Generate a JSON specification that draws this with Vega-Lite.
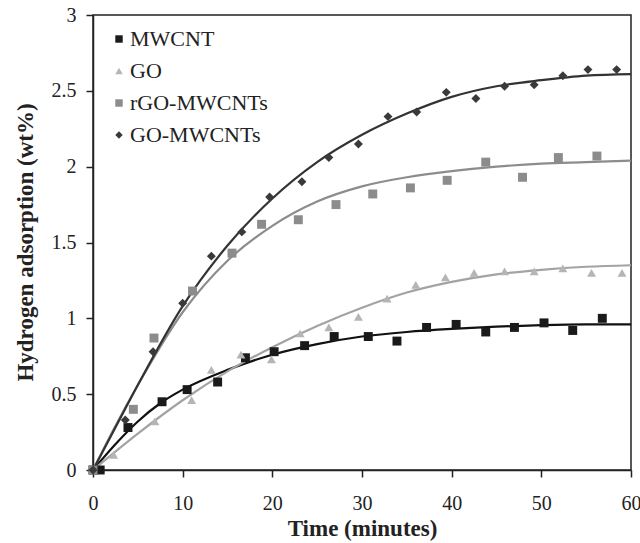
{
  "$schema": "https://vega.github.io/schema/vega-lite/v6.json",
  "width": 538,
  "height": 455,
  "autosize": {"type": "none"},
  "padding": {"left": 93, "top": 15, "right": 9, "bottom": 73},
  "background": "white",
  "config": {
    "font": "Times New Roman",
    "view": {"stroke": "#222", "strokeWidth": 1.5},
    "axis": {
      "labelFont": "Times New Roman", "labelFontSize": 20, "labelColor": "#222",
      "titleFont": "Times New Roman", "titleFontSize": 23, "titleFontWeight": "bold", "titleColor": "#222",
      "domainColor": "#222", "domainWidth": 1.5, "tickColor": "#222", "tickWidth": 1.5, "tickSize": 7,
      "grid": false
    },
    "legend": {"labelFont": "Times New Roman", "labelFontSize": 22, "labelColor": "#222"}
  },
  "resolve": {"scale": {"stroke": "independent"}, "legend": {"stroke": "independent"}},
  "datasets": {
    "points": [
      {"series": "MWCNT", "t": 0, "v": 0},
      {"series": "MWCNT", "t": 0.8, "v": 0.0},
      {"series": "MWCNT", "t": 3.9, "v": 0.28},
      {"series": "MWCNT", "t": 7.7, "v": 0.45},
      {"series": "MWCNT", "t": 10.5, "v": 0.53},
      {"series": "MWCNT", "t": 13.9, "v": 0.58},
      {"series": "MWCNT", "t": 17.0, "v": 0.74},
      {"series": "MWCNT", "t": 20.2, "v": 0.78},
      {"series": "MWCNT", "t": 23.6, "v": 0.82},
      {"series": "MWCNT", "t": 26.9, "v": 0.88},
      {"series": "MWCNT", "t": 30.7, "v": 0.88},
      {"series": "MWCNT", "t": 33.9, "v": 0.85},
      {"series": "MWCNT", "t": 37.2, "v": 0.94},
      {"series": "MWCNT", "t": 40.5, "v": 0.96},
      {"series": "MWCNT", "t": 43.8, "v": 0.91},
      {"series": "MWCNT", "t": 47.0, "v": 0.94},
      {"series": "MWCNT", "t": 50.3, "v": 0.97},
      {"series": "MWCNT", "t": 53.5, "v": 0.92},
      {"series": "MWCNT", "t": 56.8, "v": 1.0},
      {"series": "GO", "t": 0, "v": 0},
      {"series": "GO", "t": 2.3, "v": 0.1},
      {"series": "GO", "t": 6.9, "v": 0.32},
      {"series": "GO", "t": 11.0, "v": 0.46},
      {"series": "GO", "t": 13.2, "v": 0.66},
      {"series": "GO", "t": 16.5, "v": 0.76},
      {"series": "GO", "t": 19.9, "v": 0.73},
      {"series": "GO", "t": 23.1, "v": 0.9},
      {"series": "GO", "t": 26.3, "v": 0.94},
      {"series": "GO", "t": 29.6, "v": 1.01},
      {"series": "GO", "t": 32.8, "v": 1.13},
      {"series": "GO", "t": 36.0, "v": 1.22},
      {"series": "GO", "t": 39.3, "v": 1.27},
      {"series": "GO", "t": 42.5, "v": 1.3},
      {"series": "GO", "t": 45.9, "v": 1.31},
      {"series": "GO", "t": 49.2, "v": 1.31},
      {"series": "GO", "t": 52.4, "v": 1.33},
      {"series": "GO", "t": 55.6, "v": 1.3},
      {"series": "GO", "t": 59.0, "v": 1.3},
      {"series": "rGO-MWCNTs", "t": 0, "v": 0},
      {"series": "rGO-MWCNTs", "t": 4.5, "v": 0.4},
      {"series": "rGO-MWCNTs", "t": 6.8, "v": 0.87},
      {"series": "rGO-MWCNTs", "t": 11.1, "v": 1.18},
      {"series": "rGO-MWCNTs", "t": 15.5, "v": 1.43},
      {"series": "rGO-MWCNTs", "t": 18.8, "v": 1.62},
      {"series": "rGO-MWCNTs", "t": 22.9, "v": 1.65},
      {"series": "rGO-MWCNTs", "t": 27.1, "v": 1.75},
      {"series": "rGO-MWCNTs", "t": 31.2, "v": 1.82},
      {"series": "rGO-MWCNTs", "t": 35.4, "v": 1.86},
      {"series": "rGO-MWCNTs", "t": 39.5, "v": 1.91},
      {"series": "rGO-MWCNTs", "t": 43.8, "v": 2.03},
      {"series": "rGO-MWCNTs", "t": 47.9, "v": 1.93},
      {"series": "rGO-MWCNTs", "t": 51.9, "v": 2.06},
      {"series": "rGO-MWCNTs", "t": 56.2, "v": 2.07},
      {"series": "GO-MWCNTs", "t": 0, "v": 0},
      {"series": "GO-MWCNTs", "t": 3.6, "v": 0.33},
      {"series": "GO-MWCNTs", "t": 6.7, "v": 0.78},
      {"series": "GO-MWCNTs", "t": 10.0, "v": 1.1},
      {"series": "GO-MWCNTs", "t": 13.2, "v": 1.41},
      {"series": "GO-MWCNTs", "t": 16.6, "v": 1.57},
      {"series": "GO-MWCNTs", "t": 19.7, "v": 1.8},
      {"series": "GO-MWCNTs", "t": 23.3, "v": 1.9},
      {"series": "GO-MWCNTs", "t": 26.3, "v": 2.06},
      {"series": "GO-MWCNTs", "t": 29.6, "v": 2.15},
      {"series": "GO-MWCNTs", "t": 32.9, "v": 2.33},
      {"series": "GO-MWCNTs", "t": 36.1, "v": 2.36},
      {"series": "GO-MWCNTs", "t": 39.4, "v": 2.49},
      {"series": "GO-MWCNTs", "t": 42.7, "v": 2.45},
      {"series": "GO-MWCNTs", "t": 45.9, "v": 2.53},
      {"series": "GO-MWCNTs", "t": 49.2, "v": 2.54},
      {"series": "GO-MWCNTs", "t": 52.4, "v": 2.6},
      {"series": "GO-MWCNTs", "t": 55.2, "v": 2.64},
      {"series": "GO-MWCNTs", "t": 58.4, "v": 2.64}
    ],
    "curves": [
      {"series": "MWCNT", "t": 0, "v": 0},
      {"series": "MWCNT", "t": 2.5, "v": 0.17},
      {"series": "MWCNT", "t": 5, "v": 0.32},
      {"series": "MWCNT", "t": 7.5, "v": 0.44},
      {"series": "MWCNT", "t": 10, "v": 0.53},
      {"series": "MWCNT", "t": 15, "v": 0.66},
      {"series": "MWCNT", "t": 20, "v": 0.76},
      {"series": "MWCNT", "t": 25, "v": 0.83},
      {"series": "MWCNT", "t": 30, "v": 0.88},
      {"series": "MWCNT", "t": 35, "v": 0.91},
      {"series": "MWCNT", "t": 40, "v": 0.93},
      {"series": "MWCNT", "t": 45, "v": 0.945},
      {"series": "MWCNT", "t": 50, "v": 0.955},
      {"series": "MWCNT", "t": 55, "v": 0.96},
      {"series": "MWCNT", "t": 60, "v": 0.96},
      {"series": "GO", "t": 0, "v": 0},
      {"series": "GO", "t": 5, "v": 0.24},
      {"series": "GO", "t": 10, "v": 0.46},
      {"series": "GO", "t": 15, "v": 0.65},
      {"series": "GO", "t": 20, "v": 0.81},
      {"series": "GO", "t": 25, "v": 0.95},
      {"series": "GO", "t": 30, "v": 1.07},
      {"series": "GO", "t": 35, "v": 1.17},
      {"series": "GO", "t": 40, "v": 1.24},
      {"series": "GO", "t": 45, "v": 1.29},
      {"series": "GO", "t": 50, "v": 1.32},
      {"series": "GO", "t": 55, "v": 1.34},
      {"series": "GO", "t": 60, "v": 1.35},
      {"series": "rGO-MWCNTs", "t": 0, "v": 0},
      {"series": "rGO-MWCNTs", "t": 2.5, "v": 0.29},
      {"series": "rGO-MWCNTs", "t": 5, "v": 0.56},
      {"series": "rGO-MWCNTs", "t": 10, "v": 1.04},
      {"series": "rGO-MWCNTs", "t": 15, "v": 1.38},
      {"series": "rGO-MWCNTs", "t": 20, "v": 1.61},
      {"series": "rGO-MWCNTs", "t": 25, "v": 1.77},
      {"series": "rGO-MWCNTs", "t": 30, "v": 1.87},
      {"series": "rGO-MWCNTs", "t": 35, "v": 1.93},
      {"series": "rGO-MWCNTs", "t": 40, "v": 1.97},
      {"series": "rGO-MWCNTs", "t": 45, "v": 2.0},
      {"series": "rGO-MWCNTs", "t": 50, "v": 2.02},
      {"series": "rGO-MWCNTs", "t": 55, "v": 2.03},
      {"series": "rGO-MWCNTs", "t": 60, "v": 2.04},
      {"series": "GO-MWCNTs", "t": 0, "v": 0},
      {"series": "GO-MWCNTs", "t": 2.5, "v": 0.28},
      {"series": "GO-MWCNTs", "t": 5, "v": 0.56},
      {"series": "GO-MWCNTs", "t": 10, "v": 1.08},
      {"series": "GO-MWCNTs", "t": 15, "v": 1.48},
      {"series": "GO-MWCNTs", "t": 20, "v": 1.79},
      {"series": "GO-MWCNTs", "t": 25, "v": 2.03},
      {"series": "GO-MWCNTs", "t": 30, "v": 2.21},
      {"series": "GO-MWCNTs", "t": 35, "v": 2.35},
      {"series": "GO-MWCNTs", "t": 40, "v": 2.46},
      {"series": "GO-MWCNTs", "t": 45, "v": 2.53},
      {"series": "GO-MWCNTs", "t": 50, "v": 2.57},
      {"series": "GO-MWCNTs", "t": 55, "v": 2.6},
      {"series": "GO-MWCNTs", "t": 60, "v": 2.61}
    ]
  },
  "layer": [
    {
      "data": {"name": "curves"},
      "mark": {"type": "line", "interpolate": "monotone", "strokeWidth": 2.2},
      "encoding": {
        "x": {"field": "t", "type": "quantitative"},
        "y": {"field": "v", "type": "quantitative"},
        "stroke": {
          "field": "series", "type": "nominal", "legend": null,
          "scale": {"domain": ["MWCNT", "GO", "rGO-MWCNTs", "GO-MWCNTs"], "range": ["#111111", "#a3a3a3", "#8c8c8c", "#333333"]}
        }
      }
    },
    {
      "data": {"name": "points"},
      "mark": {"type": "point", "filled": true, "opacity": 1, "size": 80},
      "encoding": {
        "x": {
          "field": "t", "type": "quantitative",
          "scale": {"domain": [0, 60], "nice": false},
          "axis": {"values": [0, 10, 20, 30, 40, 50, 60], "title": "Time (minutes)", "labelPadding": 16, "labelFlush": false, "titleY": 65, "titleBaseline": "alphabetic"}
        },
        "y": {
          "field": "v", "type": "quantitative",
          "scale": {"domain": [0, 3], "nice": false},
          "axis": {"values": [0, 0.5, 1, 1.5, 2, 2.5, 3], "format": "~g", "title": "Hydrogen adsorption (wt%)", "labelPadding": 10, "titleX": -61, "titleY": 227, "titleBaseline": "alphabetic"}
        },
        "fill": {
          "field": "series", "type": "nominal",
          "scale": {"domain": ["MWCNT", "GO", "rGO-MWCNTs", "GO-MWCNTs"], "range": ["#1a1a1a", "#b5b5b5", "#8c8c8c", "#3a3a3a"]},
          "legend": {"orient": "none", "legendX": 15, "legendY": 13, "title": null, "symbolSize": 55, "rowPadding": 10, "labelOffset": 0, "symbolStrokeWidth": 0}
        },
        "shape": {
          "field": "series", "type": "nominal",
          "scale": {"domain": ["MWCNT", "GO", "rGO-MWCNTs", "GO-MWCNTs"], "range": ["square", "triangle-up", "square", "diamond"]},
          "legend": {"orient": "none", "legendX": 15, "legendY": 13, "title": null, "symbolSize": 55, "rowPadding": 10, "labelOffset": 0, "symbolStrokeWidth": 0}
        }
      }
    }
  ]
}
